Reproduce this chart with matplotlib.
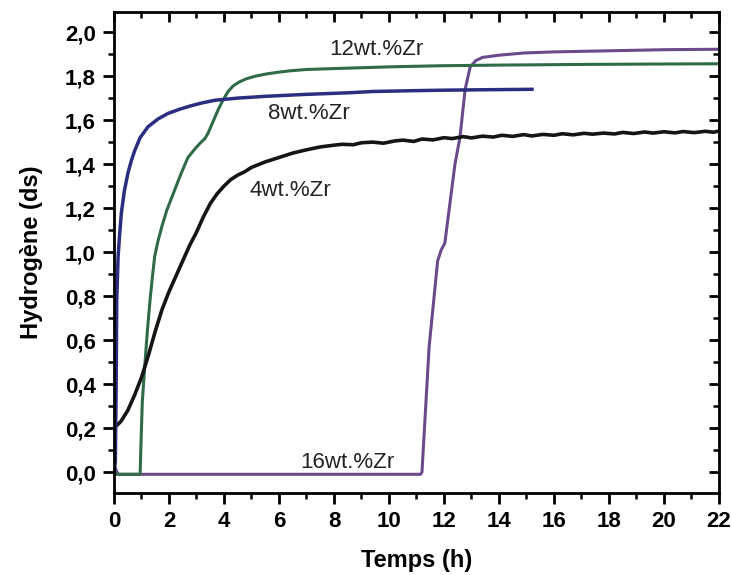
import matplotlib
matplotlib.use("Agg")
import matplotlib.pyplot as plt
from matplotlib.ticker import MultipleLocator, FuncFormatter

plt.rcParams['font.family'] = ['Liberation Sans', 'DejaVu Sans']

# 4wt.%Zr (black, noisy trace)
x4 = [0, 0.25, 0.5, 0.75, 1.0, 1.25, 1.5, 1.75, 2.0, 2.25, 2.5, 2.75, 3.0, 3.25, 3.5,
      3.75, 4.0, 4.25, 4.5, 4.75, 5.0, 5.5, 6.0, 6.5, 7.0, 7.5, 8.0, 8.3, 8.7, 9.0, 9.4, 9.8,
      10.2, 10.5, 10.9, 11.2, 11.6, 12.0, 12.3, 12.7, 13.0, 13.4, 13.8, 14.1, 14.5, 14.9,
      15.2, 15.6, 16.0, 16.3, 16.7, 17.1, 17.4, 17.8, 18.2, 18.5, 18.9, 19.3, 19.6, 20.0,
      20.4, 20.7, 21.1, 21.5, 21.8, 22.0]
y4 = [0.20, 0.23, 0.28, 0.35, 0.43, 0.53, 0.64, 0.74, 0.82, 0.89, 0.96, 1.03, 1.09, 1.16, 1.22,
      1.265, 1.30, 1.33, 1.35, 1.365, 1.385, 1.41, 1.43, 1.45, 1.465, 1.478, 1.486, 1.49, 1.488, 1.497,
      1.50, 1.495, 1.505, 1.509, 1.503, 1.514, 1.51, 1.52, 1.516, 1.525, 1.519, 1.527, 1.523, 1.531,
      1.526, 1.534, 1.528, 1.535, 1.531, 1.538, 1.533, 1.54, 1.536, 1.541, 1.537, 1.544, 1.539, 1.546,
      1.541, 1.547, 1.542, 1.548, 1.543, 1.549, 1.545, 1.55]

# 8wt.%Zr (blue)
x8 = [0, 0.05, 0.08, 0.1, 0.15, 0.2, 0.27, 0.38, 0.51, 0.63, 0.75, 0.95, 1.24, 1.6, 1.96,
      2.4, 2.8, 3.2, 3.66, 4.5, 5.5, 7.0, 8.5, 9.4, 11.0, 12.0, 13.5, 15.2]
y8 = [-0.01, 0.05, 0.40, 0.78, 0.98, 1.07, 1.18, 1.28, 1.36, 1.415, 1.46, 1.52, 1.57, 1.605, 1.63,
      1.65, 1.665, 1.678, 1.69, 1.70, 1.708, 1.717, 1.724, 1.73, 1.734, 1.736, 1.738, 1.74]

# 12wt.%Zr (green)
x12 = [0, 0.95, 0.98, 1.03, 1.13, 1.22, 1.31, 1.4, 1.48, 1.6, 1.75, 1.92, 2.2, 2.45, 2.69,
       2.95, 3.17, 3.3, 3.42, 3.54, 3.66, 3.8, 3.96, 4.15, 4.33, 4.55, 4.82, 5.15, 5.55,
       6.0, 6.4, 7.0, 8.2, 10.0, 11.85, 14.0, 17.0, 20.0, 22.0]
y12 = [-0.01, -0.01, 0.12, 0.32, 0.50, 0.65, 0.78, 0.89, 0.98, 1.05, 1.12, 1.19, 1.28, 1.36, 1.43,
       1.47, 1.50, 1.515, 1.54, 1.575, 1.61, 1.65, 1.69, 1.73, 1.755, 1.773, 1.788, 1.80, 1.81,
       1.818, 1.824, 1.83, 1.835, 1.842, 1.847, 1.85, 1.853, 1.855, 1.856]

# 16wt.%Zr (purple)
x16 = [0, 0.15, 5.0, 11.15, 11.2, 11.46, 11.77, 11.9, 12.03, 12.4, 12.58, 12.77, 12.95, 13.15,
       13.4, 14.0, 14.9, 16.0, 18.0, 20.0, 22.0]
y16 = [0.03, -0.01, -0.01, -0.01, 0.0, 0.57, 0.96, 1.01, 1.04, 1.40, 1.52, 1.74, 1.84, 1.87,
       1.885, 1.895, 1.905, 1.91, 1.915, 1.92, 1.922]

labels = ['4wt.%Zr', '8wt.%Zr', '12wt.%Zr', '16wt.%Zr']
label_pos = [(6.4, 1.28), (7.1, 1.63), (9.55, 1.92), (8.5, 0.045)]

fig = plt.figure(figsize=(7.32, 5.75), dpi=100)
ax = fig.add_axes([0.1557, 0.1426, 0.8265, 0.8364])

ax.plot(x16, y16, color='#6b4a8c', lw=2.2)
ax.plot(x12, y12, color='#2f6b47', lw=2.2)
ax.plot(x4, y4, color='#151515', lw=2.6)
ax.plot(x8, y8, color='#2b2d80', lw=2.5)

for lab, (lx, ly) in zip(labels, label_pos):
    ax.text(lx, ly, lab, fontsize=16, ha='center', va='center', color='#222222')

ax.set_xlim(0, 22)
ax.set_ylim(-0.095, 2.091)
ax.xaxis.set_major_locator(MultipleLocator(2))
ax.xaxis.set_minor_locator(MultipleLocator(1))
ax.yaxis.set_major_locator(MultipleLocator(0.2))
ax.yaxis.set_minor_locator(MultipleLocator(0.1))
ax.yaxis.set_major_formatter(FuncFormatter(lambda v, p: ('%.1f' % v).replace('.', ',')))

for s in ax.spines.values():
    s.set_linewidth(2)
ax.tick_params(which='major', direction='out', length=8, width=2, labelsize=16, pad=5)
ax.tick_params(which='minor', direction='out', length=4, width=1.8)
for lbl in ax.get_xticklabels() + ax.get_yticklabels():
    lbl.set_fontweight('bold')

# mirrored ticks pointing inward on top and right
axt = ax.secondary_xaxis('top')
axt.xaxis.set_major_locator(MultipleLocator(2))
axt.xaxis.set_minor_locator(MultipleLocator(1))
axt.tick_params(which='major', direction='in', length=7, width=2, labeltop=False)
axt.tick_params(which='minor', direction='in', length=4, width=1.8)
axr = ax.secondary_yaxis('right')
axr.yaxis.set_major_locator(MultipleLocator(0.2))
axr.yaxis.set_minor_locator(MultipleLocator(0.1))
axr.tick_params(which='major', direction='in', length=7, width=2, labelright=False)
axr.tick_params(which='minor', direction='in', length=4, width=1.8)

ax.set_xlabel('Temps (h)', fontsize=17, fontweight='bold', labelpad=12)
ax.set_ylabel('Hydrogène (ds)', fontsize=17, fontweight='bold', labelpad=16)

fig.savefig('out.png', dpi=100)
